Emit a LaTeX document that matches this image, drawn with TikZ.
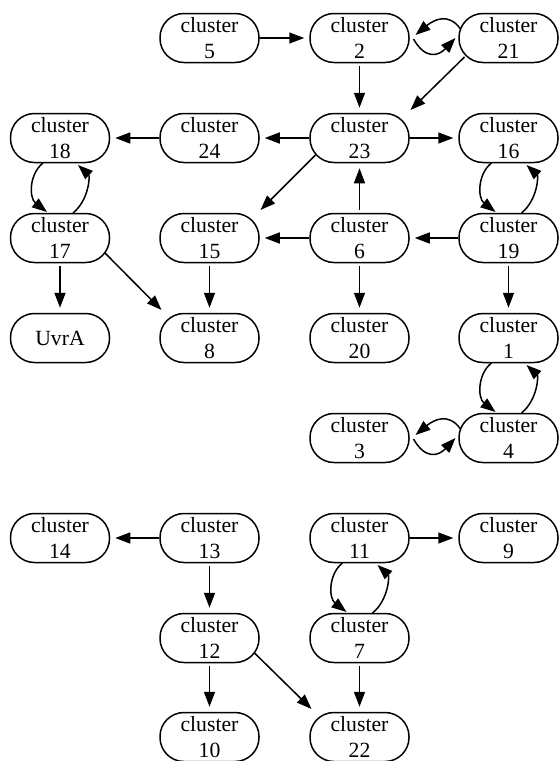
\documentclass[tikz,border=0pt]{standalone}
\usepackage{fontspec}
\setmainfont{Liberation Serif}
\usetikzlibrary{arrows.meta,calc}
\begin{document}
\begin{tikzpicture}[x=1pt,y=-1pt,
  cl/.style={draw, line width=1.5pt, rounded corners=24pt, minimum width=99pt,
    minimum height=49pt, inner sep=0pt, align=center,
    font=\fontsize{21.7}{26.7}\selectfont},
  ar/.style={line width=1.5pt, -{Triangle[length=15pt,width=11pt]}, shorten >=5pt},
  av/.style={ar, shorten <=3pt},
  ad/.style={line width=1.5pt, -{Triangle[length=15pt,width=11pt]}},
]
\useasboundingbox (0,0) rectangle (559,761);
% row 0
\node[cl] (n5)  at (209.5,38) {cluster\\5};
\node[cl] (n2)  at (359.5,38) {cluster\\2};
\node[cl] (n21) at (508.5,38) {cluster\\21};
% row 1
\node[cl] (n18) at (60,138)    {cluster\\18};
\node[cl] (n24) at (209.5,138) {cluster\\24};
\node[cl] (n23) at (359.5,138) {cluster\\23};
\node[cl] (n16) at (508.5,138) {cluster\\16};
% row 2
\node[cl] (n17) at (60,238)    {cluster\\17};
\node[cl] (n15) at (209.5,238) {cluster\\15};
\node[cl] (n6)  at (359.5,238) {cluster\\6};
\node[cl] (n19) at (508.5,238) {cluster\\19};
% row 3
\node[cl] (nU)  at (60,338)    {UvrA};
\node[cl] (n8)  at (209.5,338) {cluster\\8};
\node[cl] (n20) at (359.5,338) {cluster\\20};
\node[cl] (n1)  at (508.5,338) {cluster\\1};
% row 4
\node[cl] (n3)  at (359.5,438) {cluster\\3};
\node[cl] (n4)  at (508.5,438) {cluster\\4};
% row 5
\node[cl] (n14) at (60,538)    {cluster\\14};
\node[cl] (n13) at (209.5,538) {cluster\\13};
\node[cl] (n11) at (359.5,538) {cluster\\11};
\node[cl] (n9)  at (508.5,538) {cluster\\9};
% row 6
\node[cl] (n12) at (209.5,638) {cluster\\12};
\node[cl] (n7)  at (359.5,638) {cluster\\7};
% row 7
\node[cl] (n10) at (209.5,737) {cluster\\10};
\node[cl] (n22) at (359.5,737) {cluster\\22};

% straight horizontal
\draw[ar] (n5) -- (n2);
\draw[ar] (n23) -- (n24);
\draw[ar] (n24) -- (n18);
\draw[ar] (n23) -- (n16);
\draw[ar] (n6) -- (n15);
\draw[ar] (n19) -- (n6);
\draw[ar] (n13) -- (n14);
\draw[ar] (n11) -- (n9);
% straight vertical
\draw[av] (n2) -- (n23);
\draw[av] (n6) -- (n23);
\draw[av] (n17) -- (nU);
\draw[av] (n15) -- (n8);
\draw[av] (n6) -- (n20);
\draw[av] (n19) -- (n1);
\draw[av] (n13) -- (n12);
\draw[av] (n12) -- (n10);
\draw[av] (n7) -- (n22);
% diagonals
\draw[ad] ($(n21)+(-44,19)$) -- ($(n23)+(51,-28)$);
\draw[ad] ($(n23)+(-44,17)$) -- ($(n15)+(51,-28)$);
\draw[ad] ($(n17)+(45,15)$) -- ($(n8)+(-48,-28)$);
\draw[ad] ($(n12)+(45,15)$) -- ($(n22)+(-48,-28)$);

% horizontal pairs (left, right)
\draw[ad] ($(n21)+(-48,-9)$) .. controls ($(n21)+(-60,-26)$) and ($(n2)+(74,-18)$) .. ($(n2)+(56,-3)$);
\draw[ad] ($(n2)+(54,1)$) .. controls ($(n2)+(66,22)$) and ($(n21)+(-70,18)$) .. ($(n21)+(-53,0)$);
\draw[ad] ($(n4)+(-48,-9)$) .. controls ($(n4)+(-60,-26)$) and ($(n3)+(74,-18)$) .. ($(n3)+(56,-3)$);
\draw[ad] ($(n3)+(54,1)$) .. controls ($(n3)+(66,22)$) and ($(n4)+(-70,18)$) .. ($(n4)+(-53,0)$);

% vertical pairs (upper, lower)
\draw[ad] ($(n18)+(-17,25)$) .. controls ($(n18)+(-31,36)$) and ($(n18)+(-31,60)$) .. ($(n17)+(-13,-26)$);
\draw[ad] ($(n17)+(13,-25)$) .. controls ($(n17)+(29,-38)$) and ($(n17)+(30,-62)$) .. ($(n18)+(18,27)$);
\draw[ad] ($(n16)+(-17,25)$) .. controls ($(n16)+(-31,36)$) and ($(n16)+(-31,60)$) .. ($(n19)+(-13,-26)$);
\draw[ad] ($(n19)+(13,-25)$) .. controls ($(n19)+(29,-38)$) and ($(n19)+(30,-62)$) .. ($(n16)+(18,27)$);
\draw[ad] ($(n1)+(-17,25)$) .. controls ($(n1)+(-31,36)$) and ($(n1)+(-31,60)$) .. ($(n4)+(-13,-26)$);
\draw[ad] ($(n4)+(13,-25)$) .. controls ($(n4)+(29,-38)$) and ($(n4)+(30,-62)$) .. ($(n1)+(18,27)$);
\draw[ad] ($(n11)+(-17,25)$) .. controls ($(n11)+(-31,36)$) and ($(n11)+(-31,60)$) .. ($(n7)+(-13,-26)$);
\draw[ad] ($(n7)+(13,-25)$) .. controls ($(n7)+(29,-38)$) and ($(n7)+(30,-62)$) .. ($(n11)+(18,27)$);
\end{tikzpicture}
\end{document}
